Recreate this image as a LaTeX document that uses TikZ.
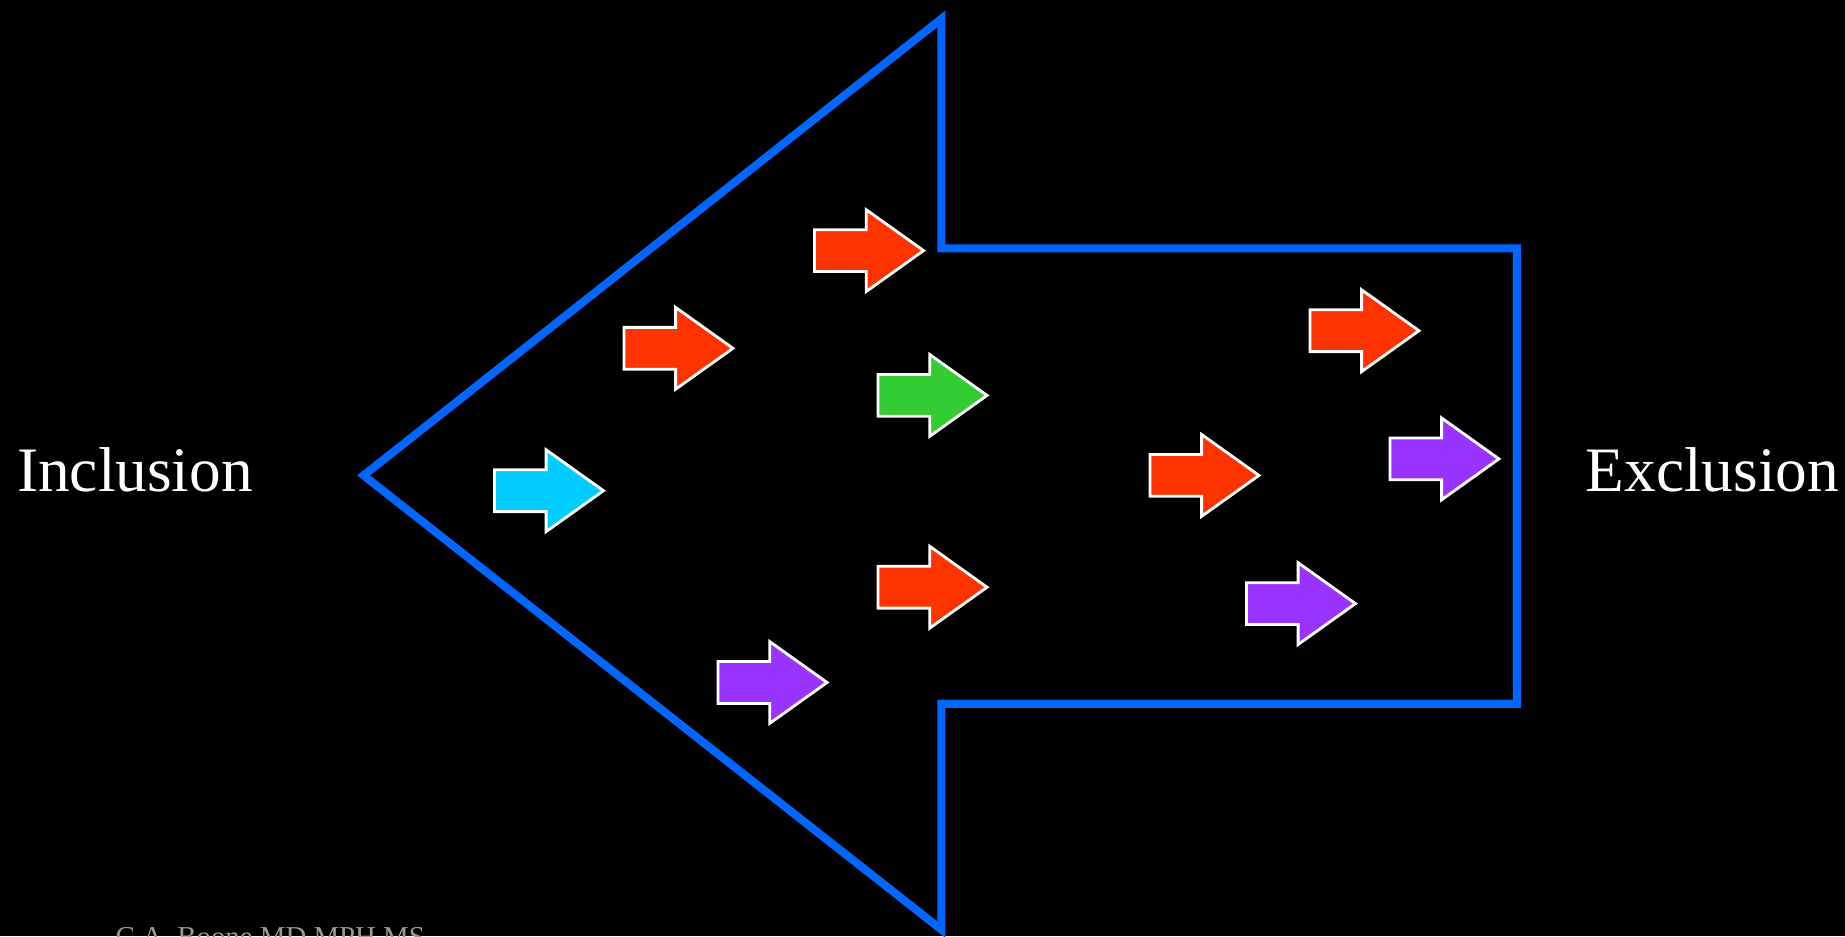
\documentclass[tikz,border=0pt]{standalone}
\usepackage{fontspec}
\setmainfont{Liberation Serif}
\usepackage{tikz}
\usetikzlibrary{shapes.arrows}
\definecolor{frameblue}{RGB}{ 0, 102, 255 }
\definecolor{hotred}{RGB}{ 255, 51, 0 }
\definecolor{leafgreen}{RGB}{ 51, 204, 51 }
\definecolor{skycyan}{RGB}{ 0, 204, 255 }
\definecolor{violet}{RGB}{ 153, 51, 255 }

\begin{document}
\begin{tikzpicture}[x=0.01cm,y=-0.01cm]
\tikzstyle{flow}=[single arrow,draw=white,line width=0.8pt,inner xsep=0pt,inner ysep=0.195cm,
  minimum height=1.09cm,minimum width=0.79cm,single arrow head extend=0.2cm,
  single arrow tip angle=71,single arrow head indent=0pt,anchor=west]
\tikzstyle{side label}=[font=\fontsize{18}{22}\selectfont,text=white,anchor=base west,inner sep=0]

% background
\fill[black] (0,0) rectangle (1845,936);
\useasboundingbox (0,0) rectangle (1845,936);

% big arrow pointing left
\draw[frameblue,line width=2.3pt,miter limit=20]
  (363.6,475.4) -- (941.4,18.8) -- (941.4,248.3) -- (1516.8,248.3)
  -- (1516.8,703.7) -- (941.4,703.7) -- (941.4,929.6) -- cycle;

% small arrows
\node(a1)[flow,fill=skycyan] at (493,490.7) {};
\node(a2)[flow,fill=hotred] at (622.5,348.3) {};
\node(a3)[flow,fill=hotred] at (813.1,250.6) {};
\node(a4)[flow,fill=leafgreen] at (876.6,395.4) {};
\node(a5)[flow,fill=hotred] at (876.6,587.2) {};
\node(a6)[flow,fill=violet] at (716.6,682.5) {};
\node(a7)[flow,fill=hotred] at (1148.5,475.4) {};
\node(a8)[flow,fill=hotred] at (1308.5,330.7) {};
\node(a9)[flow,fill=violet] at (1388.5,458.9) {};
\node(a10)[flow,fill=violet] at (1245,603.6) {};

% end labels
\node(incl)[side label] at (16.5,491.8) {Inclusion};
\node(excl)[side label] at (1585,491.8) {Exclusion};
% footer, cut off at the page edge
\node(foot)[font=\fontsize{8.2}{9}\selectfont,text=gray!80,anchor=base west,inner sep=0]
  at (115,946) {C.A. Boone MD MPH MS};
\end{tikzpicture}
\end{document}
